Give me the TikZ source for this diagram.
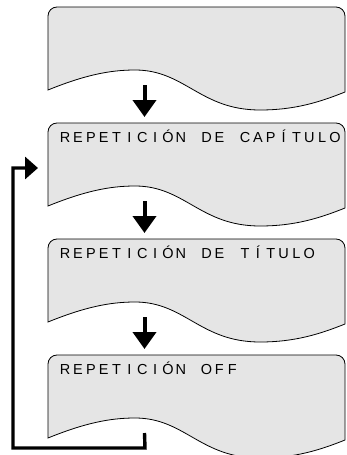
\documentclass[tikz,border=0pt]{standalone}
\usepackage{fontspec}
\usetikzlibrary{arrows.meta}
\newfontfamily\lcdfont{Liberation Sans}
\newcommand\pitchtext[1]{\pitchtextA#1\relax}
\def\pitchtextA#1{\ifx\relax#1\else\makebox[12.85pt]{#1}\expandafter\pitchtextA\fi}
\definecolor{panel}{HTML}{E5E5E5}
\tikzset{
  panelbox/.style={fill=panel, draw=black, line width=0.8pt},
  lbl/.style={anchor=base west, inner sep=0pt, font=\lcdfont\fontsize{14.5}{14.5}\selectfont},
  downarrow/.style={line width=4pt, -{Triangle[width=23pt,length=17pt]}},
  looparrow/.style={line width=3.4pt, miter limit=10, -{Triangle[width=22pt,length=13pt]}}
}
\begin{document}
\begin{tikzpicture}[x=1pt,y=-1pt]
\useasboundingbox (0,0) rectangle (346,455);
\foreach \t/\n in {7/1,123/2,239/3,355/4}{
  \begin{scope}[shift={(0,\t)}]
    \path[panelbox] (48,9) .. controls (48,4) and (52,0) .. (57,0) -- (336,0)
      .. controls (341,0) and (345,4) .. (345,9) -- (345,85)
      .. controls (320,95) and (295,103) .. (260,103)
      .. controls (200,103) and (185,63) .. (135,63)
      .. controls (110,63) and (85,68) .. (48,83) -- cycle;
    \coordinate (s\n) at (144.5,78);
    \coordinate (e\n) at (144.5,110);
  \end{scope}
}
\node[lbl] (t2) at (58.6,142) {\pitchtext{REPETICIÓN~DE~CAPÍTULO}};
\node[lbl] (t3) at (58.6,258) {\pitchtext{REPETICIÓN~DE~TÍTULO}};
\node[lbl] (t4) at (58.6,374.5) {\pitchtext{REPETICIÓN~OFF}};
\draw[downarrow] (s1) -- (e1);
\draw[downarrow] (s2) -- (e2);
\draw[downarrow] (s3) -- (e3);
\coordinate (lp1) at (145,448);
\coordinate (lp2) at (13,448);
\coordinate (lp3) at (13,168);
\coordinate (tip) at (38,168);
\draw[looparrow] (s4) -- (lp1) -- (lp2) -- (lp3) -- (tip);
\end{tikzpicture}
\end{document}
